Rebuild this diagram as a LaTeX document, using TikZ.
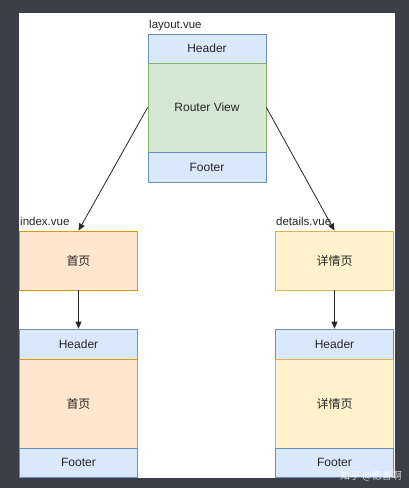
\documentclass[tikz,border=0pt]{standalone}
\usepackage{fontspec}
\setmainfont{Liberation Sans}
\newfontfamily\cjk{Noto Sans CJK SC}
\usetikzlibrary{arrows.meta}
\definecolor{bgdark}{HTML}{3C3F4A}
\definecolor{bluef}{HTML}{DAE8FC}
\definecolor{blues}{HTML}{6C8EBF}
\definecolor{greenf}{HTML}{D5E8D4}
\definecolor{greens}{HTML}{82B366}
\definecolor{orangef}{HTML}{FFE6CC}
\definecolor{oranges}{HTML}{D79B00}
\definecolor{yellowf}{HTML}{FFF2CC}
\definecolor{yellows}{HTML}{D6B656}
\tikzset{
  box/.style={draw, inner sep=0pt, minimum width=118pt, font=\fontsize{12}{14}\selectfont, text=black!85, line width=0.8pt},
  bluebox/.style={box, fill=bluef, draw=blues},
  greenbox/.style={box, fill=greenf, draw=greens},
  orangebox/.style={box, fill=orangef, draw=oranges},
  yellowbox/.style={box, fill=yellowf, draw=yellows},
  lbl/.style={inner sep=0pt, font=\fontsize{11.5}{13}\selectfont, text=black!85},
  conn/.style={draw=black!85, line width=0.8pt, -{Triangle[length=7pt,width=6pt]}}
}
\begin{document}
\begin{tikzpicture}[x=1pt,y=-1pt]
\fill[bgdark] (0,0) rectangle (409,488);
\useasboundingbox (0,0) rectangle (409,488);
\fill[white] (19,13) rectangle (395,478);

% layout.vue
\node[lbl, anchor=base west] (lyl) at (149,28) {layout.vue};
\node[bluebox, minimum height=29pt] (lh) at (207,48.5) {Header};
\node[greenbox, minimum height=89pt] (lr) at (207,107.5) {Router View};
\node[bluebox, minimum height=30pt] (lf) at (207,167) {Footer};

% index.vue
\node[lbl, anchor=base west] (ixl) at (20,225) {index.vue};
\node[orangebox, minimum height=59pt] (ix) at (78.5,260.5) {\cjk 首页};

% details.vue
\node[lbl, anchor=base west] (dtl) at (276,225) {details.vue};
\node[yellowbox, minimum height=59pt] (dt) at (334.5,260.5) {\cjk 详情页};

% index page
\node[bluebox, minimum height=30pt] (ih) at (78.5,344) {Header};
\node[orangebox, minimum height=89pt] (ib) at (78.5,403.5) {\cjk 首页};
\node[bluebox, minimum height=29pt] (if) at (78.5,462.5) {Footer};

% details page
\node[bluebox, minimum height=30pt] (dh) at (334.5,344) {Header};
\node[yellowbox, minimum height=89pt] (db) at (334.5,403.5) {\cjk 详情页};
\node[bluebox, minimum height=29pt] (df) at (334.5,462.5) {Footer};

% connectors
\draw[conn] (lr.west) -- (ix.north);
\draw[conn] (lr.east) -- (dt.north);
\draw[conn] (ix.south) -- (ih.north);
\draw[conn] (dt.south) -- (dh.north);

% right overflow mask
\fill[bgdark] (395,13) rectangle (409,488);

% watermark
\node[inner sep=0pt, anchor=base east, text=white, opacity=0.8, font=\cjk\fontsize{10}{12}\selectfont] (wm) at (402,479) {知乎 @德善啊};
\end{tikzpicture}
\end{document}
